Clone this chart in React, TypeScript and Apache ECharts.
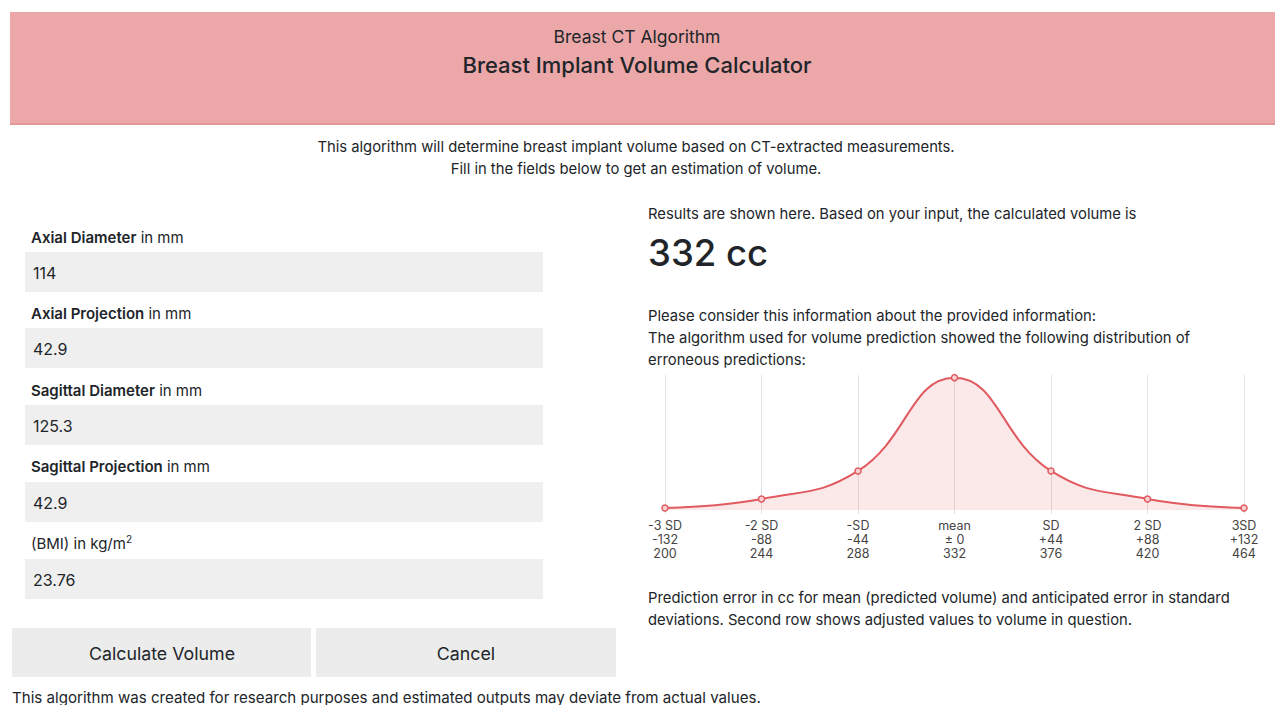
import React, { useEffect, useRef } from "react";
import * as echarts from "echarts";

const sdLabels = ["-3 SD", "-2 SD", "-SD", "mean", "SD", "2 SD", "3SD"];
const errorLabels = ["-132", "-88", "-44", "± 0", "+44", "+88", "+132"];
const volumeLabels = ["200", "244", "288", "332", "376", "420", "464"];
const errorDistribution = [1.5, 8.3, 29.5, 100, 29.5, 8.3, 1.5];

const fieldNames = ["Axial Diameter", "Axial Projection", "Sagittal Diameter", "Sagittal Projection"];
const fieldValues = ["114", "42.9", "125.3", "42.9", "23.76"];
const resultVolume = "332 cc";

const FONT = "Inter, 'Liberation Sans', sans-serif";
const TXT = "#212529";
const BODY = 14.8;

export default function App() {
  const ref = useRef<HTMLDivElement>(null);
  useEffect(() => {
    if (!ref.current) return;
    const chart = echarts.init(ref.current, undefined, { renderer: "svg" });

    const graphics: any[] = [];
    const text = (x: number, y: number, t: string, size: number, extra: any = {}) => {
      graphics.push({
        type: "text",
        x,
        y,
        style: {
          text: t,
          fontSize: size,
          fontFamily: FONT,
          fill: TXT,
          textVerticalAlign: "middle",
          ...extra,
        },
      });
    };

    // header
    graphics.push({ type: "rect", shape: { x: 10, y: 12, width: 1265, height: 112 }, style: { fill: "#eca8a9" } });
    graphics.push({ type: "rect", shape: { x: 10, y: 123, width: 1265, height: 2 }, style: { fill: "#e59899" } });
    text(637, 36, "Breast CT Algorithm", 17.5, { textAlign: "center" });
    text(637, 65, "Breast Implant Volume Calculator", 22, { textAlign: "center", fontWeight: 500 });

    text(636, 147, "This algorithm will determine breast implant volume based on CT-extracted measurements.", BODY, { textAlign: "center" });
    text(636, 169, "Fill in the fields below to get an estimation of volume.", BODY, { textAlign: "center" });

    // form
    const labelYs = [237, 313, 390, 466, 543];
    const boxYs = [252, 328, 405, 482, 559];
    labelYs.forEach((ly, i) => {
      if (i < fieldNames.length) {
        graphics.push({
          type: "text",
          x: 31,
          y: ly,
          style: {
            text: `{b|${fieldNames[i]}} {n|in mm}`,
            fontFamily: FONT,
            fontSize: 15,
            fill: TXT,
            textVerticalAlign: "middle",
            rich: {
              b: { fontWeight: 600, fontSize: 15, fontFamily: FONT, fill: TXT },
              n: { fontSize: 15, fontFamily: FONT, fill: TXT },
            },
          },
        });
      } else {
        graphics.push({
          type: "text",
          x: 31,
          y: ly,
          style: {
            text: "{n|(BMI) in kg/m}{s|2}",
            fontFamily: FONT,
            fontSize: 15,
            fill: TXT,
            textVerticalAlign: "middle",
            rich: {
              n: { fontSize: 15, fontFamily: FONT, fill: TXT, lineHeight: 18 },
              s: { fontSize: 10, fontFamily: FONT, fill: TXT, lineHeight: 18, verticalAlign: "top", padding: [0, 0, 7, 0] },
            },
          },
        });
      }
      graphics.push({ type: "rect", shape: { x: 25, y: boxYs[i], width: 518, height: 40 }, style: { fill: "#efefef" } });
      text(33, boxYs[i] + 21, fieldValues[i], 16);
    });

    // buttons
    graphics.push({ type: "rect", shape: { x: 12, y: 628, width: 299, height: 49 }, style: { fill: "#ececec" } });
    graphics.push({ type: "rect", shape: { x: 316, y: 628, width: 300, height: 49 }, style: { fill: "#ececec" } });
    text(162, 653, "Calculate Volume", 17.8, { textAlign: "center" });
    text(466, 653, "Cancel", 17.8, { textAlign: "center" });
    text(12, 697, "This algorithm was created for research purposes and estimated outputs may deviate from actual values.", 15.1);

    // results
    text(648, 214, "Results are shown here. Based on your input, the calculated volume is", BODY);
    text(648, 253, resultVolume, 36.5, { fontWeight: 500 });
    text(648, 316, "Please consider this information about the provided information:", BODY);
    text(648, 338, "The algorithm used for volume prediction showed the following distribution of", BODY);
    text(648, 360, "erroneous predictions:", BODY);
    text(648, 598, "Prediction error in cc for mean (predicted volume) and anticipated error in standard", BODY);
    text(648, 620, "deviations. Second row shows adjusted values to volume in question.", BODY);

    const cats = sdLabels.map((s, i) => `${s}\n${errorLabels[i]}\n${volumeLabels[i]}`);

    chart.setOption({
      animation: false,
      grid: { left: 665, top: 375, width: 579, height: 135, containLabel: false },
      xAxis: {
        type: "category",
        data: cats,
        boundaryGap: false,
        axisLine: { show: false },
        axisTick: { show: true, length: 4, lineStyle: { color: "#e2e2e2" } },
        splitLine: { show: true, lineStyle: { color: "#e2e2e2", width: 1 } },
        axisLabel: {
          interval: 0,
          margin: 8,
          fontSize: 12.5,
          lineHeight: 14,
          color: "#444",
          fontFamily: FONT,
          align: "center",
        },
      },
      yAxis: {
        type: "value",
        min: 0,
        max: 102,
        show: false,
        splitLine: { show: false },
      },
      series: [
        {
          type: "line",
          data: errorDistribution,
          smooth: 0.45,
          symbol: "circle",
          symbolSize: 6,
          lineStyle: { color: "#e05a60", width: 2 },
          itemStyle: { color: "#f6d2d3", borderColor: "#e05a60", borderWidth: 1.5 },
          areaStyle: { color: "rgba(232, 110, 115, 0.22)" },
        },
      ],
      graphic: graphics,
    });

    return () => chart.dispose();
  }, []);

  return (
    <div
      ref={ref}
      style={{ position: "absolute", left: 0, top: 0, width: 1275, height: 705, background: "#fff" }}
    />
  );
}
